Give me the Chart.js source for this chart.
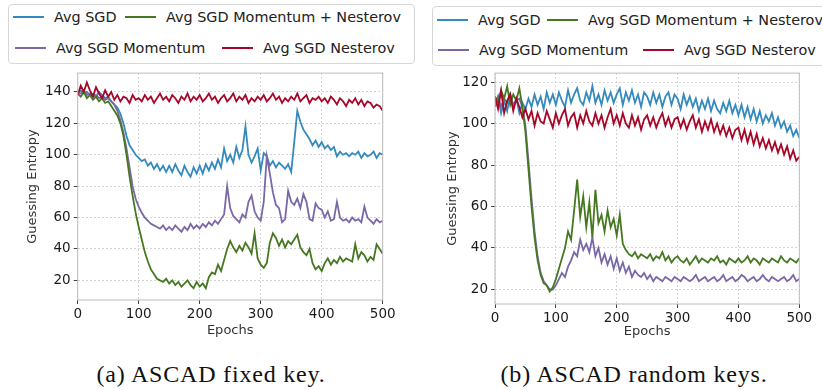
<!DOCTYPE html>
<html>
<head>
<meta charset="utf-8">
<script src="https://cdn.jsdelivr.net/npm/chart.js@4.4.1/dist/chart.umd.min.js"></script>
<style>
  body { margin: 0; width: 822px; height: 390px; background: #fff; position: relative; overflow: hidden; font-family: "DejaVu Sans", sans-serif; }
  canvas { position: absolute; }
  .legend { position: absolute; border: 1px solid #d6d6d6; border-radius: 4px; background: #fff; }
  .item { position: absolute; white-space: nowrap; font-size: 14.4px; color: #222; line-height: 18px; transform: translateY(-50%); }
  .item i { display: inline-block; width: 31px; height: 2.5px; vertical-align: middle; margin-right: 10px; position: relative; top: -1px; }
  .caption { position: absolute; top: 374px; transform: translate(-50%, -50%); font-family: "Liberation Serif", serif; font-size: 24px; letter-spacing: 0.8px; color: #111; white-space: nowrap; }
</style>
</head>
<body>
<div class="legend" style="left:8px;top:4px;width:405px;height:58px"></div>
<div class="legend" style="left:432px;top:6px;width:400px;height:58px"></div>
<div id="legends"></div>
<canvas id="fixed" width="410" height="280" style="left:0;top:62px"></canvas>
<canvas id="random" width="400" height="284" style="left:420px;top:62px"></canvas>
<div class="caption" style="left:211px">(a) ASCAD fixed key.</div>
<div class="caption" style="left:634px">(b) ASCAD random keys.</div>
<script>
// epochs 0..500, one point every 5 epochs
const epochs = Array.from({length: 101}, (_, i) => i * 5);
const xTicks = [0, 100, 200, 300, 400, 500];
const yTicksFixed = [20, 40, 60, 80, 100, 120, 140];
const yTicksRandom = [20, 40, 60, 80, 100, 120];

const names = ['Avg SGD', 'Avg SGD Momentum + Nesterov', 'Avg SGD Momentum', 'Avg SGD Nesterov'];
const colors = ['#348ABD', '#467821', '#7A68A6', '#A60628'];
const drawOrder = [3, 1, 2, 0]; // lower = drawn on top

// (a) ASCAD fixed key
const fixedSGD = [
  140,141,139,140,138,139,137,140,138,136,
  137,134,132,130,126,120,112,106,103,100,
  98,96,97,93,95,91,94,90,93,89,
  93,89,94,90,87,93,89,86,92,88,
  93,88,94,90,95,91,97,92,104,96,
  100,95,105,98,103,118,100,95,99,104,
  90,101,99,93,96,92,95,93,91,94,
  89,108,128,121,116,113,110,106,109,105,
  108,104,106,103,105,99,102,100,101,99,
  101,100,102,98,101,99,100,102,98,101,
  100];
const fixedMomNest = [
  139,137,140,136,138,135,137,134,136,133,
  134,131,128,125,120,112,100,86,74,63,
  54,46,38,32,27,24,21,20,19,21,
  18,20,17,19,16,18,20,17,15,19,
  16,18,15,22,25,24,30,26,33,40,
  45,41,38,42,39,44,41,37,50,34,
  30,28,31,44,50,47,42,46,41,45,
  43,46,49,41,38,36,40,31,27,29,
  26,31,34,30,33,31,35,32,34,33,
  32,43,34,38,36,32,35,33,43,40,
  37];
const fixedMom = [
  140,139,141,138,139,137,138,136,137,135,
  136,134,132,128,122,114,104,92,80,72,
  67,63,60,58,56,55,54,53,55,52,
  54,52,55,53,51,54,52,56,53,55,
  53,56,54,57,55,58,56,59,62,80,
  66,61,59,57,62,60,70,74,64,60,
  58,70,99,88,76,68,66,57,59,77,
  70,68,72,66,75,70,59,58,69,66,
  65,60,64,58,59,70,60,58,59,57,
  60,58,59,57,67,60,58,56,59,57,
  58];
const fixedNest = [
  138,144,140,146,141,137,143,139,136,141,
  137,140,135,138,134,137,136,133,138,135,
  136,134,138,135,137,133,136,139,135,137,
  134,138,136,133,137,135,139,134,137,135,
  138,134,136,139,135,137,133,136,138,134,
  136,139,134,137,135,138,133,136,134,137,
  135,138,134,136,139,135,137,133,136,134,
  137,135,139,134,136,138,133,136,135,137,
  134,136,133,137,135,132,136,134,131,135,
  133,136,132,135,131,134,133,130,132,131,
  128];

// (b) ASCAD random keys
const randomSGD = [
  108,113,105,111,106,114,108,112,105,110,
  107,112,108,114,109,113,107,115,110,114,
  109,115,111,108,116,110,114,117,111,109,
  115,111,118,110,114,109,116,111,115,110,
  114,117,109,115,111,116,110,114,108,115,
  113,109,115,110,114,108,113,115,109,114,
  112,107,114,109,113,108,112,106,111,107,
  112,106,111,107,105,110,106,111,105,109,
  104,109,103,108,102,107,101,106,100,104,
  101,105,99,103,98,101,96,99,94,97,
  93];
const randomMomNest = [
  113,110,116,112,118,109,114,111,117,108,
  96,78,60,45,34,27,23,22,19,21,
  25,30,35,40,48,44,58,73,55,65,
  50,62,45,68,52,56,48,58,50,54,
  46,56,42,39,37,36,38,35,37,36,
  35,37,34,36,35,38,34,36,33,35,
  36,34,33,35,32,34,36,33,35,34,
  33,35,34,36,33,34,32,35,34,33,
  35,33,34,36,33,35,34,32,35,34,
  33,35,34,33,36,34,33,35,34,33,
  35];
const randomMom = [
  110,113,108,112,110,114,109,111,112,108,
  99,82,64,48,36,28,24,22,20,20,
  22,25,28,26,31,34,38,36,44,39,
  42,38,45,36,40,33,37,32,36,30,
  35,29,33,28,31,26,29,27,26,28,
  25,27,24,26,25,24,26,25,24,26,
  25,24,26,25,24,25,27,24,25,26,
  24,25,26,24,25,27,24,25,26,24,
  25,27,26,24,25,26,24,25,27,25,
  24,26,25,24,25,26,24,25,27,24,
  25];
const randomNest = [
  113,107,116,105,111,114,106,112,108,103,
  107,102,106,99,105,101,100,106,102,98,
  105,100,104,107,99,103,105,98,104,100,
  106,101,99,105,100,104,98,103,107,100,
  104,99,105,100,98,104,99,103,97,102,
  104,99,103,98,102,105,99,103,98,102,
  103,98,102,97,101,104,98,102,96,101,
  97,102,96,100,95,99,94,98,93,97,
  98,92,97,91,96,90,95,89,93,88,
  92,87,91,86,90,85,89,83,87,82,
  84];

Chart.defaults.font.family = '"DejaVu Sans", sans-serif';
Chart.defaults.color = '#1a1a1a';

const framePlugin = {
  id: 'frame',
  afterDatasetsDraw(chart) {
    const {ctx, chartArea: a} = chart;
    ctx.save();
    ctx.strokeStyle = '#bcbcbc';
    ctx.lineWidth = 1;
    ctx.strokeRect(a.left, a.top, a.width, a.height);
    ctx.restore();
  }
};

function makeChart(id, series, yMin, yMax, yTicks, pad) {
  return new Chart(document.getElementById(id), {
    type: 'line',
    data: {
      datasets: series.map((s, i) => ({
        label: names[i],
        data: s.map((v, j) => ({x: epochs[j], y: v})),
        borderColor: colors[i],
        borderWidth: 1.8,
        pointRadius: 0,
        tension: 0,
        order: drawOrder[i]
      }))
    },
    options: {
      responsive: false,
      animation: false,
      events: [],
      layout: {padding: {left: 0, right: pad.right, top: pad.top, bottom: 0}},
      plugins: {legend: {display: false}, tooltip: {enabled: false}},
      scales: {
        x: {
          type: 'linear', min: 0, max: 500,
          afterBuildTicks: s => { s.ticks = xTicks.map(v => ({value: v})); },
          afterFit: s => { s.height = 42; },
          grid: {color: '#d4d4d4', tickColor: '#444', tickLength: 4},
          border: {display: false, dash: [2, 2]},
          ticks: {font: {size: 13.5}, padding: 2, maxRotation: 0},
          title: {display: true, text: 'Epochs', font: {size: 13}, color: '#333', padding: {top: 0, bottom: pad.xTitle}}
        },
        y: {
          min: yMin, max: yMax,
          afterBuildTicks: s => { s.ticks = yTicks.map(v => ({value: v})); },
          afterFit: s => { s.width = pad.left; },
          grid: {color: '#d4d4d4', tickColor: '#444', tickLength: 4},
          border: {display: false, dash: [2, 2]},
          ticks: {font: {size: 13.5}, padding: 3},
          title: {display: true, text: 'Guessing Entropy', font: {size: 13}, color: '#333', padding: {top: 25, bottom: 0}}
        }
      }
    },
    plugins: [framePlugin]
  });
}

makeChart('fixed', [fixedSGD, fixedMomNest, fixedMom, fixedNest], 7.5, 152, yTicksFixed,
  {left: 77.7, right: 27.3, top: 6, xTitle: 4});
makeChart('random', [randomSGD, randomMomNest, randomMom, randomNest], 13, 124.3, yTicksRandom,
  {left: 75, right: 20.7, top: 9, xTitle: 6.5});

// legends: items laid out in two rows like the reference
const legendItems = [
  // [series index, left, centre y]
  [0, 13, 17], [1, 125, 17], [2, 15, 48], [3, 222, 48],
  [0, 437, 20], [1, 547, 20], [2, 438, 50], [3, 643, 50]
];
const holder = document.getElementById('legends');
legendItems.forEach(([k, x, y]) => {
  const d = document.createElement('div');
  d.className = 'item';
  d.style.left = x + 'px';
  d.style.top = y + 'px';
  d.innerHTML = '<i style="background:' + colors[k] + '"></i>' + names[k];
  holder.appendChild(d);
});
</script>
</body>
</html>
